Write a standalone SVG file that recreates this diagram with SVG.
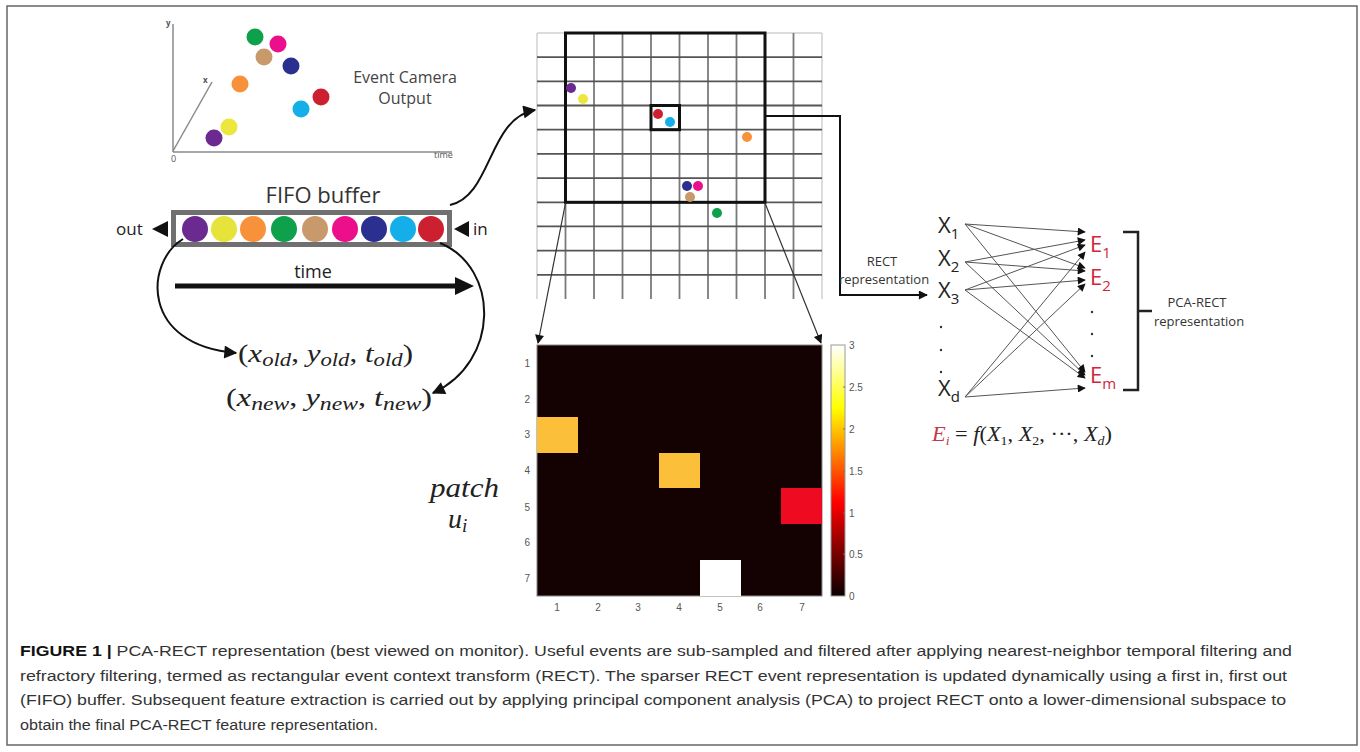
<svg xmlns="http://www.w3.org/2000/svg" width="1360" height="752" viewBox="0 0 1360 752">
<style>
.sans{font-family:"Open Sans","Liberation Sans",sans-serif}
.serif{font-family:"Liberation Serif","DejaVu Serif",serif}
.cap{font-family:"Liberation Sans",Arial,sans-serif;font-size:15.5px;fill:#333}
.gv{stroke:#7a7a7a;stroke-width:1.8}
.gh{stroke:#555;stroke-width:1.8}
.ge{stroke:#d0d0d0;stroke-width:1.5}
.net{stroke:#555;stroke-width:1;fill:none}
.tick{font-family:"Liberation Sans",sans-serif;font-size:10px;fill:#555}
.xl{font-family:"Open Sans","Liberation Sans",sans-serif;font-size:22px;fill:#222}
.el{font-family:"Open Sans","Liberation Sans",sans-serif;font-size:22px;fill:#d3253a}
</style>
<defs>
<marker id="big" viewBox="0 0 10 10" refX="9" refY="5" markerUnits="userSpaceOnUse" markerWidth="15" markerHeight="13" orient="auto"><path d="M0,0 L10,5 L0,10 Z" fill="#111"/></marker>
<marker id="sm" viewBox="0 0 10 10" refX="9" refY="5" markerUnits="userSpaceOnUse" markerWidth="10" markerHeight="9" orient="auto"><path d="M0,0 L10,5 L0,10 Z" fill="#111"/></marker>
<marker id="nt" viewBox="0 0 10 10" refX="9" refY="5" markerUnits="userSpaceOnUse" markerWidth="10" markerHeight="8" orient="auto"><path d="M0,0 L10,5 L0,10 Z" fill="#111"/></marker>
<linearGradient id="hot" x1="0" y1="1" x2="0" y2="0">
<stop offset="0" stop-color="#0a0000"/>
<stop offset="0.375" stop-color="#ff0000"/>
<stop offset="0.75" stop-color="#ffff00"/>
<stop offset="1" stop-color="#ffffff"/>
</linearGradient>
</defs>
<rect x="7" y="6" width="1350" height="739" fill="#fff" stroke="#666" stroke-width="1.5"/>

<g id="event-camera">
<g stroke="#8a8a8a" stroke-width="1.5" fill="none">
<line x1="173" y1="152" x2="173" y2="24"/>
<line x1="173" y1="152" x2="452" y2="152"/>
<line x1="173" y1="151" x2="212" y2="82"/>
</g>
<text x="166" y="26" class="sans" font-size="8" font-weight="bold" fill="#555">y</text>
<text x="203" y="83" class="sans" font-size="8" font-weight="bold" fill="#555">x</text>
<text x="171" y="162" class="sans" font-size="9" fill="#555">0</text>
<text x="434" y="158" class="sans" font-size="9" fill="#555">time</text>
<circle cx="255" cy="37" r="8.5" fill="#0ea04b"/>
<circle cx="278" cy="44" r="8.5" fill="#ec0f8c"/>
<circle cx="264" cy="57" r="8.5" fill="#c8996b"/>
<circle cx="291" cy="66" r="8.5" fill="#2b2f8f"/>
<circle cx="240" cy="84" r="8.5" fill="#f7923a"/>
<circle cx="321" cy="97" r="8.5" fill="#cc2030"/>
<circle cx="301" cy="109" r="8.5" fill="#14aee8"/>
<circle cx="229" cy="127" r="8.5" fill="#ede63c"/>
<circle cx="214" cy="138" r="8.5" fill="#6a2a90"/>
<text x="405" y="83" class="sans" font-size="16" fill="#444" text-anchor="middle">Event Camera</text>
<text x="405" y="104" class="sans" font-size="16" fill="#444" text-anchor="middle">Output</text>
</g>

<g id="fifo-buffer">
<text x="323" y="203" class="sans" font-size="22" fill="#333" text-anchor="middle">FIFO buffer</text>
<rect x="173.5" y="212.5" width="276" height="32" fill="#fff" stroke="#707070" stroke-width="5"/>
<circle cx="195" cy="229" r="13" fill="#6a2a90"/>
<circle cx="224" cy="229" r="13" fill="#e6e43a"/>
<circle cx="253" cy="229" r="13" fill="#f7923a"/>
<circle cx="284" cy="229" r="13" fill="#0ea04b"/>
<circle cx="315" cy="229" r="13" fill="#c8996b"/>
<circle cx="345" cy="229" r="13" fill="#ec0f8c"/>
<circle cx="374" cy="229" r="13" fill="#2b2f8f"/>
<circle cx="403" cy="229" r="13" fill="#14aee8"/>
<circle cx="431" cy="229" r="13" fill="#cc2030"/>
<text x="116" y="235" class="sans" font-size="17" fill="#222">out</text>
<polygon points="152,229 168,221 168,237" fill="#111"/>
<polygon points="454,229 469,221 469,237" fill="#111"/>
<text x="473" y="235" class="sans" font-size="17" fill="#222">in</text>
<text x="313" y="278" class="sans" font-size="18" fill="#222" text-anchor="middle">time</text>
<line x1="175" y1="286" x2="456" y2="286" stroke="#111" stroke-width="5"/>
<polygon points="474,286 455,277 455,295" fill="#111"/>
</g>

<g id="old-new-tuples" class="serif" fill="#222">
<text x="238" y="362" font-size="26" textLength="175" lengthAdjust="spacingAndGlyphs">(<tspan font-style="italic">x</tspan><tspan font-style="italic" font-size="19" dy="4">old</tspan><tspan dy="-4">, </tspan><tspan font-style="italic">y</tspan><tspan font-style="italic" font-size="19" dy="4">old</tspan><tspan dy="-4">, </tspan><tspan font-style="italic">t</tspan><tspan font-style="italic" font-size="19" dy="4">old</tspan><tspan dy="-4">)</tspan></text>
<text x="226" y="406" font-size="26" textLength="206" lengthAdjust="spacingAndGlyphs">(<tspan font-style="italic">x</tspan><tspan font-style="italic" font-size="19" dy="4">new</tspan><tspan dy="-4">, </tspan><tspan font-style="italic">y</tspan><tspan font-style="italic" font-size="19" dy="4">new</tspan><tspan dy="-4">, </tspan><tspan font-style="italic">t</tspan><tspan font-style="italic" font-size="19" dy="4">new</tspan><tspan dy="-4">)</tspan></text>
</g>

<g id="patch-label" class="serif" fill="#222">
<text x="430" y="497" font-size="28" font-style="italic" textLength="69" lengthAdjust="spacingAndGlyphs">patch</text>
<text x="448" y="528" font-size="28" font-style="italic">u<tspan font-size="19" dy="4">i</tspan></text>
</g>

<g id="rect-grid">
<g class="ge">
<line x1="537" y1="33" x2="537" y2="299"/>
<line x1="822" y1="33" x2="822" y2="299"/>
<line x1="537" y1="33" x2="822" y2="33"/>
</g>
<g class="gv">
<line x1="565.5" y1="33" x2="565.5" y2="299"/>
<line x1="594" y1="33" x2="594" y2="299"/>
<line x1="622.5" y1="33" x2="622.5" y2="299"/>
<line x1="651" y1="33" x2="651" y2="299"/>
<line x1="679.5" y1="33" x2="679.5" y2="299"/>
<line x1="708" y1="33" x2="708" y2="299"/>
<line x1="736.5" y1="33" x2="736.5" y2="299"/>
<line x1="765" y1="33" x2="765" y2="299"/>
<line x1="793.5" y1="33" x2="793.5" y2="299"/>
</g>
<g class="gh">
<line x1="537" y1="57.2" x2="822" y2="57.2"/>
<line x1="537" y1="81.4" x2="822" y2="81.4"/>
<line x1="537" y1="105.5" x2="822" y2="105.5"/>
<line x1="537" y1="129.7" x2="822" y2="129.7"/>
<line x1="537" y1="153.9" x2="822" y2="153.9"/>
<line x1="537" y1="178.1" x2="822" y2="178.1"/>
<line x1="537" y1="202.3" x2="822" y2="202.3"/>
<line x1="537" y1="226.4" x2="822" y2="226.4"/>
<line x1="537" y1="250.6" x2="822" y2="250.6"/>
<line x1="537" y1="274.8" x2="822" y2="274.8"/>
</g>
<rect x="565.5" y="33" width="199.5" height="169.3" fill="none" stroke="#111" stroke-width="3"/>
<rect x="651" y="105.5" width="28.5" height="24.2" fill="none" stroke="#111" stroke-width="3"/>
<circle cx="571" cy="88" r="5" fill="#6a2a90"/>
<circle cx="583" cy="99" r="5" fill="#ede63c"/>
<circle cx="658" cy="114" r="5" fill="#cc2030"/>
<circle cx="670" cy="122" r="5" fill="#14aee8"/>
<circle cx="747" cy="137" r="5" fill="#f7923a"/>
<circle cx="687" cy="186" r="5" fill="#2b2f8f"/>
<circle cx="698" cy="186" r="5" fill="#ec0f8c"/>
<circle cx="690" cy="197" r="5" fill="#c8996b"/>
<circle cx="717" cy="213" r="5" fill="#0ea04b"/>
</g>

<g id="heatmap">
<rect x="537" y="345" width="285" height="251" fill="#140203" stroke="#888" stroke-width="1"/>
<rect x="537" y="417" width="41" height="36" fill="#fbbf3a"/>
<rect x="659" y="453" width="41" height="35" fill="#fbbf3a"/>
<rect x="781" y="488" width="41" height="36" fill="#ee0a20"/>
<rect x="700" y="560" width="41" height="36" fill="#ffffff"/>
<g class="tick" text-anchor="end">
<text x="530" y="367">1</text>
<text x="530" y="403">2</text>
<text x="530" y="438">3</text>
<text x="530" y="474">4</text>
<text x="530" y="511">5</text>
<text x="530" y="546">6</text>
<text x="530" y="582">7</text>
</g>
<g class="tick" text-anchor="middle">
<text x="557" y="611">1</text>
<text x="598" y="611">2</text>
<text x="638" y="611">3</text>
<text x="679" y="611">4</text>
<text x="720" y="611">5</text>
<text x="760" y="611">6</text>
<text x="802" y="611">7</text>
</g>
</g>

<g id="colorbar">
<rect x="831" y="345" width="14" height="251" fill="url(#hot)" stroke="#999" stroke-width="1"/>
<g stroke="#777" stroke-width="1">
<line x1="843" y1="387" x2="845" y2="387"/>
<line x1="843" y1="429" x2="845" y2="429"/>
<line x1="843" y1="471" x2="845" y2="471"/>
<line x1="843" y1="513" x2="845" y2="513"/>
<line x1="843" y1="554" x2="845" y2="554"/>
</g>
<g class="tick">
<text x="849" y="349">3</text>
<text x="849" y="391">2.5</text>
<text x="849" y="433">2</text>
<text x="849" y="475">1.5</text>
<text x="849" y="517">1</text>
<text x="849" y="558">0.5</text>
<text x="849" y="600">0</text>
</g>
</g>

<g id="pca-network">
<text x="938" y="233" class="xl">X<tspan font-size="15" dy="6">1</tspan></text>
<text x="938" y="266" class="xl">X<tspan font-size="15" dy="6">2</tspan></text>
<text x="938" y="298" class="xl">X<tspan font-size="15" dy="6">3</tspan></text>
<text x="938" y="396" class="xl">X<tspan font-size="15" dy="6">d</tspan></text>
<g fill="#333"><circle cx="941" cy="327" r="1.2"/><circle cx="941" cy="350" r="1.2"/><circle cx="941" cy="372" r="1.2"/></g>
<text x="1090" y="252" class="el">E<tspan font-size="15" dy="6">1</tspan></text>
<text x="1090" y="285" class="el">E<tspan font-size="15" dy="6">2</tspan></text>
<text x="1090" y="383" class="el">E<tspan font-size="15" dy="6">m</tspan></text>
<g fill="#333"><circle cx="1092" cy="312" r="1.2"/><circle cx="1092" cy="334" r="1.2"/><circle cx="1092" cy="356" r="1.2"/></g>
<path d="M1123,232 H1138 V390 H1123 M1138,311 H1152" fill="none" stroke="#222" stroke-width="2.5"/>
<text x="1197" y="307" class="sans" font-size="13" fill="#333" text-anchor="middle">PCA-RECT</text>
<text x="1199" y="326" class="sans" font-size="13" fill="#333" text-anchor="middle">representation</text>
<text x="932" y="441" class="serif" font-size="21" fill="#222" textLength="180" lengthAdjust="spacingAndGlyphs"><tspan font-style="italic" fill="#c0394a">E</tspan><tspan font-style="italic" fill="#c0394a" font-size="13" dy="4">i</tspan><tspan dy="-4"> = </tspan><tspan font-style="italic">f</tspan>(<tspan font-style="italic">X</tspan><tspan font-size="13" dy="4">1</tspan><tspan dy="-4">, </tspan><tspan font-style="italic">X</tspan><tspan font-size="13" dy="4">2</tspan><tspan dy="-4">, ···, </tspan><tspan font-style="italic">X</tspan><tspan font-style="italic" font-size="13" dy="4">d</tspan><tspan dy="-4">)</tspan></text>
</g>

<g id="connectors">
<path d="M450,205 C492,196 488,118 535,110" fill="none" stroke="#111" stroke-width="2" marker-end="url(#big)"/>
<path d="M183,239 C145,262 140,345 236,353" fill="none" stroke="#111" stroke-width="2" marker-end="url(#big)"/>
<path d="M440,243 C500,268 500,362 433,393" fill="none" stroke="#111" stroke-width="2" marker-end="url(#big)"/>
<path d="M766,116 H840 V295 H927" fill="none" stroke="#111" stroke-width="2" marker-end="url(#sm)"/>
<line x1="565.5" y1="203" x2="538" y2="343" stroke="#333" stroke-width="1.2" marker-end="url(#sm)"/>
<line x1="765" y1="203" x2="821" y2="343" stroke="#333" stroke-width="1.2" marker-end="url(#sm)"/>
<text x="882" y="266" class="sans" font-size="13" fill="#333" text-anchor="middle">RECT</text>
<text x="884" y="284" class="sans" font-size="13" fill="#333" text-anchor="middle">representation</text>
<g class="net" marker-end="url(#nt)">
<line x1="965" y1="224" x2="1085" y2="232"/>
<line x1="965" y1="224" x2="1085" y2="268"/>
<line x1="965" y1="224" x2="1085" y2="372"/>
<line x1="965" y1="262" x2="1085" y2="240"/>
<line x1="965" y1="262" x2="1085" y2="271"/>
<line x1="965" y1="262" x2="1085" y2="375"/>
<line x1="965" y1="290" x2="1085" y2="245"/>
<line x1="965" y1="290" x2="1085" y2="280"/>
<line x1="965" y1="290" x2="1085" y2="378"/>
<line x1="965" y1="397" x2="1085" y2="252"/>
<line x1="965" y1="397" x2="1085" y2="284"/>
<line x1="965" y1="397" x2="1085" y2="388"/>
</g>
</g>

<g id="caption">
<text x="20" y="656" class="cap" textLength="1272" lengthAdjust="spacingAndGlyphs"><tspan font-weight="bold" fill="#111">FIGURE 1 |</tspan> PCA-RECT representation (best viewed on monitor). Useful events are sub-sampled and filtered after applying nearest-neighbor temporal filtering and</text>
<text x="20" y="681" class="cap" textLength="1267" lengthAdjust="spacingAndGlyphs">refractory filtering, termed as rectangular event context transform (RECT). The sparser RECT event representation is updated dynamically using a first in, first out</text>
<text x="20" y="705" class="cap" textLength="1266" lengthAdjust="spacingAndGlyphs">(FIFO) buffer. Subsequent feature extraction is carried out by applying principal component analysis (PCA) to project RECT onto a lower-dimensional subspace to</text>
<text x="20" y="730" class="cap" textLength="358" lengthAdjust="spacingAndGlyphs">obtain the final PCA-RECT feature representation.</text>
</g>
</svg>
